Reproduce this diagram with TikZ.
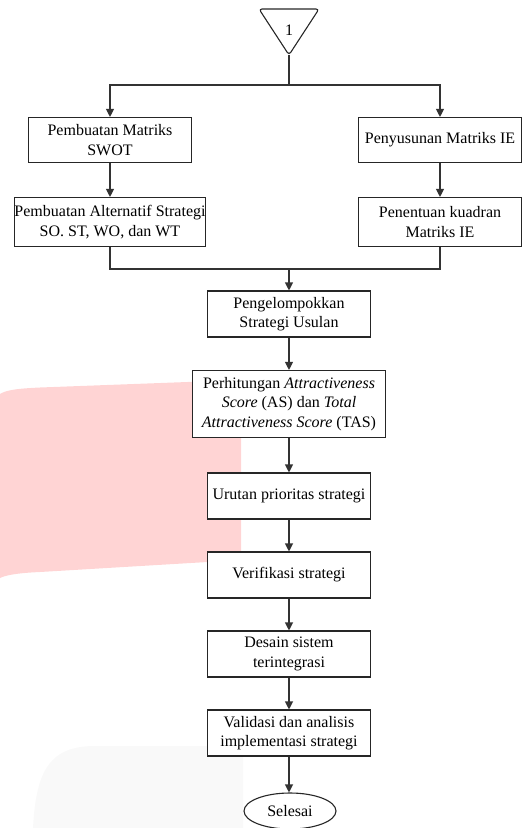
\documentclass[tikz,border=0pt]{standalone}
\usepackage{fontspec}
\setmainfont{Liberation Serif}
\usetikzlibrary{arrows.meta,shapes.geometric}

\begin{document}
\begin{tikzpicture}[x=1pt,y=-1pt,line width=1.1pt]
\tikzstyle{every node}+=[font=\fontsize{16}{19.5}\selectfont,align=center]
\tikzstyle{proses}=[draw=black!85,fill=white,rectangle,minimum width=163,minimum height=45,inner sep=0pt]
\tikzstyle{panah}=[draw=black!80,-{Triangle[length=8pt,width=8pt]}]
\tikzstyle{garis}=[draw=black!80]
\useasboundingbox (0,0) rectangle (529,828);
\fill [red!17] (0,394) .. controls (6,390) and (18,388.5) .. (40,387.5) -- (241,380) -- (241,560) -- (40,572) .. controls (18,573) and (6,575) .. (0,578) -- cycle;
\fill [black!2.5] (33,828) .. controls (36,770) and (50,746) .. (95,746) -- (243,746) -- (243,828) -- cycle;
\draw [black!85,rounded corners=3pt] (259,9) -- (319,9) -- (289,55) -- cycle;
\node (satu) at (289,30) {1};
\coordinate (puncak) at (289,55);
\coordinate (cabang) at (289,85);
\node [proses] (swot) at (110,140) {Pembuatan Matriks\\SWOT};
\node [proses] (ie) at (440,140) {Penyusunan Matriks IE};
\node [proses,minimum width=191,minimum height=49] (alt) at (110,222) {Pembuatan Alternatif Strategi\\SO. ST, WO, dan WT};
\node [proses,minimum height=49] (kuad) at (440,222) {Penentuan kuadran\\Matriks IE};
\coordinate (gabung) at (289,269);
\node [proses,minimum height=46] (kelompok) at (289,314) {Pengelompokkan\\Strategi Usulan};
\node [proses,minimum width=193,minimum height=67] (hitung) at (289,404) {Perhitungan \textit{Attractiveness}\\\textit{Score} (AS) dan \textit{Total}\\\textit{Attractiveness Score} (TAS)};
\node [proses,minimum height=46] (urutan) at (289,496) {Urutan prioritas strategi};
\node [proses,minimum height=46] (verif) at (289,575) {Verifikasi strategi};
\node [proses,minimum height=46] (desain) at (289,654) {Desain sistem\\terintegrasi};
\node [proses,minimum height=46] (valid) at (289,733) {Validasi dan analisis\\implementasi strategi};
\node [draw=black!85,fill=white,ellipse,minimum width=92,minimum height=36,inner sep=0pt] (selesai) at (290,811) {Selesai};
\draw [garis] (puncak) -- (cabang);
\draw [panah] (cabang) -| (swot);
\draw [panah] (cabang) -| (ie);
\draw [panah] (swot) -- (alt);
\draw [panah] (ie) -- (kuad);
\draw [garis] (alt) |- (gabung) -| (kuad);
\draw [panah] (gabung) -- (kelompok);
\draw [panah] (kelompok) -- (hitung);
\draw [panah] (hitung) -- (urutan);
\draw [panah] (urutan) -- (verif);
\draw [panah] (verif) -- (desain);
\draw [panah] (desain) -- (valid);
\draw [panah] (valid) -- (valid |- selesai.north);
\end{tikzpicture}
\end{document}
